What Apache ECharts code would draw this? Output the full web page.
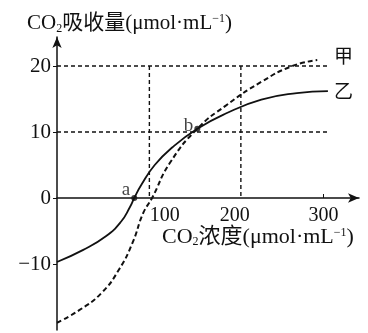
<!DOCTYPE html>
<html><head><meta charset="utf-8">
<script src="https://cdn.jsdelivr.net/npm/echarts@6/dist/echarts.min.js"></script>
<style>html,body{margin:0;padding:0;background:#fff}#c{width:368px;height:333px}</style>
</head><body><div id="c"></div>
<script>
// Data
const xTickLabels = [100, 200, 300];
const yTickLabels = [-10, 0, 10, 20];
// 乙 (solid)
const yiX = [0, 29, 55, 72, 82, 87, 95, 110, 130, 158, 190, 230, 270, 305];
const yiY = [-9.7, -7.9, -5.8, -3.6, -1.4, 0, 2.0, 5.0, 7.7, 10.5, 12.8, 14.9, 15.9, 16.2];
// 甲 (dashed)
const jiaX = [0, 25, 50, 70, 85, 97, 107, 127, 158, 190, 230, 265, 293];
const jiaY = [-18.9, -17.0, -14.4, -10.8, -6.8, -2.3, 0, 5.3, 10.5, 14.0, 17.6, 20.0, 20.9];
// reference dashed guide lines
const guideH20 = [[0, 20], [304, 20]];
const guideH10 = [[0, 10], [304, 10]];
const guideV1 = [[104, 20], [104, 0]];
const guideV2 = [[207, 20], [207, 0]];
// marked points
const pointA = [87, 0];
const pointB = [158, 10.5];

const zip = (xs, ys) => xs.map((x, i) => [x, ys[i]]);
const serif = '"Liberation Serif","Noto Sans CJK SC",serif';
const dashStyle = {color: '#111', width: 1.4, type: [4, 3]};
const ink = '#111';

const chart = echarts.init(document.getElementById('c'));
chart.setOption({
  animation: false,
  backgroundColor: '#fff',
  grid: {left: 57, right: 9, top: 37, bottom: 3, outerBoundsMode: 'none', containLabel: false},
  xAxis: {
    type: 'value', min: 0, max: 340, position: 'bottom', offset: -132,
    splitLine: {show: false},
    axisLine: {onZero: false, lineStyle: {color: ink, width: 1.5}, symbol: ['none', 'arrow'], symbolSize: [7, 11]},
    axisTick: {show: true, inside: true, length: 4, customValues: [300], lineStyle: {color: ink}},
    axisLabel: {
      customValues: xTickLabels, margin: 8, color: ink, fontFamily: serif, fontSize: 20,
      formatter: v => v === 100 ? '{r|100}' : String(v),
      rich: {r: {padding: [0, 0, 0, 38], fontFamily: serif, fontSize: 20, color: ink}}
    }
  },
  yAxis: {
    type: 'value', min: -20, max: 24.4,
    splitLine: {show: false},
    axisLine: {onZero: false, lineStyle: {color: ink, width: 1.5}, symbol: ['none', 'arrow'], symbolSize: [7, 11]},
    axisTick: {show: true, length: 4, customValues: yTickLabels, lineStyle: {color: ink}},
    axisLabel: {customValues: yTickLabels, margin: 6, color: ink, fontFamily: serif, fontSize: 21,
      formatter: v => v < 0 ? '\u2212' + Math.abs(v) : String(v)}
  },
  series: [
    {type: 'line', data: guideH20, symbol: 'none', lineStyle: dashStyle, silent: true},
    {type: 'line', data: guideH10, symbol: 'none', lineStyle: dashStyle, silent: true},
    {type: 'line', data: guideV1, symbol: 'none', lineStyle: dashStyle, silent: true},
    {type: 'line', data: guideV2, symbol: 'none', lineStyle: dashStyle, silent: true},
    {type: 'line', name: '乙', data: zip(yiX, yiY), smooth: 0.5, symbol: 'none',
      lineStyle: {color: ink, width: 1.8}},
    {type: 'line', name: '甲', data: zip(jiaX, jiaY), smooth: 0.5, symbol: 'none',
      lineStyle: {color: ink, width: 2, type: [5, 3]}},
    {type: 'scatter', data: [pointA, pointB], symbolSize: 6, itemStyle: {color: ink},
      label: {show: true, position: 'left', distance: 1, color: ink, fontFamily: serif, fontSize: 19,
        formatter: p => p.dataIndex === 0 ? '{a|a}' : '{b|b}',
        rich: {a: {fontFamily: serif, fontSize: 19, color: ink, padding: [0, 0, 16, 0]},
               b: {fontFamily: serif, fontSize: 19, color: ink, padding: [0, 0, 6, 0]}}}}
  ],
  graphic: [
    {type: 'text', left: 27, top: 13, style: {
      text: 'CO{s|2}吸收量(μmol·mL{p|\u22121})', fontFamily: serif, fontSize: 21, fill: ink,
      rich: {s: {fontSize: 12, fontFamily: serif, padding: [10, 0, 0, 0], fill: ink},
             p: {fontSize: 12, fontFamily: serif, padding: [0, 0, 9, 0], fill: ink}}}},
    {type: 'text', left: 162, top: 226, style: {
      text: 'CO{s|2}浓度(μmol·mL{p|\u22121})', fontFamily: serif, fontSize: 22, fill: ink,
      rich: {s: {fontSize: 12, fontFamily: serif, padding: [10, 0, 0, 0], fill: ink},
             p: {fontSize: 12, fontFamily: serif, padding: [0, 0, 9, 0], fill: ink}}}},
    {type: 'text', left: 334, top: 49, style: {text: '甲', fontFamily: serif, fontSize: 19, fill: ink}},
    {type: 'text', left: 334, top: 84, style: {text: '乙', fontFamily: serif, fontSize: 19, fill: ink}}
  ]
});
</script></body></html>
